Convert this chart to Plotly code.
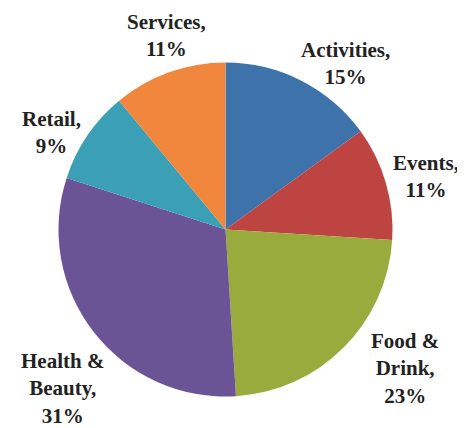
import plotly.graph_objects as go

categories = ["Activities", "Events", "Food &<br>Drink", "Health &<br>Beauty", "Retail", "Services"]
values = [15, 11, 23, 31, 9, 11]
colors = ["#3d72ab", "#bd4440", "#98ab3c", "#6b5496", "#3b9fb5", "#f0873c"]
# label centres in page pixels (x, y from top)
label_pos = [(345, 64), (426, 176), (405, 368), (62, 388), (51, 132), (166, 36)]

OFF = 8  # page body margin
W, H = 465 - OFF, 428 - OFF
cx, cy, r = 225.5 - OFF, 229.5 - OFF, 167

fig = go.Figure(go.Pie(
    labels=categories,
    values=values,
    sort=False,
    direction="clockwise",
    rotation=0,
    marker=dict(colors=colors, line=dict(width=0)),
    textinfo="none",
    hoverinfo="label+percent",
    domain=dict(x=[(cx - r) / W, (cx + r) / W],
                y=[(H - cy - r) / H, (H - cy + r) / H]),
    showlegend=False,
))

total = sum(values)
for cat, v, (px, py) in zip(categories, values, label_pos):
    fig.add_annotation(
        x=(px - OFF) / W, y=1 - (py - OFF) / H, xref="paper", yref="paper",
        text=f"{cat},<br>{round(100 * v / total)}%",
        showarrow=False, xanchor="center", yanchor="middle", align="center",
        font=dict(family="Liberation Serif", size=21, color="#222222", weight="bold"),
    )

fig.update_layout(
    width=W, height=H,
    margin=dict(l=0, r=0, t=0, b=0),
    paper_bgcolor="white", plot_bgcolor="white",
)

fig.write_html("out.html")
